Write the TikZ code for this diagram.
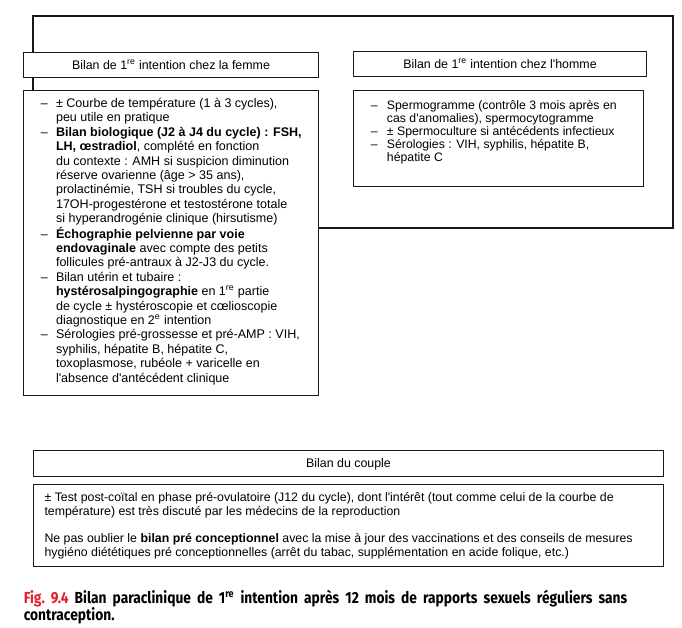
\documentclass[tikz,border=0pt]{standalone}
\usepackage{fontspec}
\setmainfont{Liberation Sans}
\newfontfamily\capfont[FakeStretch=0.86]{Fira Sans}
\definecolor{figred}{RGB}{228,30,42}
\newcommand{\ap}{\textquotesingle}
\begin{document}
\begin{tikzpicture}[x=0.75pt,y=-0.75pt,
  frame/.style={line width=1.5pt,draw=black!90},
  box/.style={draw=black!90,line width=0.75pt,fill=white,anchor=north west,inner sep=0pt},
  ttl/.style={box,font=\fontsize{9.3}{11}\selectfont,text height=6.7pt,text depth=0pt},
  body/.style={anchor=base west,inner sep=0pt,align=left}]
\useasboundingbox (0,0) rectangle (682,628);
% outer frame
\draw[frame] (33,90) -- (33,16) -- (673,16) -- (673,228) -- (318,228);
% woman
\node[ttl,minimum width=221.25pt,minimum height=18.75pt] (ftitle) at (23,52) {Bilan de 1\textsuperscript{re} intention chez la femme};
\node[box,minimum width=221.25pt,minimum height=228.5pt] (fbox) at (23,90) {};
\node[body,font=\fontsize{9.4}{10.8}\selectfont] (ftext) at (40.7,107.5) {\begin{tabular}[t]{@{}p{11.3pt}@{}l@{}}
– & ± Courbe de température (1 à 3 cycles), \\
 & peu utile en pratique \\
– & \textbf{Bilan biologique (J2 à J4 du cycle) : FSH,} \\
 & \textbf{LH, œstradiol}, complété en fonction \\
 & du contexte : AMH si suspicion diminution \\
 & réserve ovarienne (âge > 35 ans), \\
 & prolactinémie, TSH si troubles du cycle, \\
 & 17OH-progestérone et testostérone totale \\
 & si hyperandrogénie clinique (hirsutisme) \\
– & \textbf{Échographie pelvienne par voie} \\
 & \textbf{endovaginale} avec compte des petits \\
 & follicules pré-antraux à J2-J3 du cycle. \\
– & Bilan utérin et tubaire : \\
 & \textbf{hystérosalpingographie} en 1\textsuperscript{re} partie \\
 & de cycle ± hystéroscopie et cœlioscopie \\
 & diagnostique en 2\textsuperscript{e} intention \\
– & Sérologies pré-grossesse et pré-AMP : VIH, \\
 & syphilis, hépatite B, hépatite C, \\
 & toxoplasmose, rubéole + varicelle en \\
 & l\ap absence d\ap antécédent clinique
\end{tabular}};
% man
\node[ttl,minimum width=219.75pt,minimum height=18.75pt] (htitle) at (353,51) {Bilan de 1\textsuperscript{re} intention chez l\ap homme};
\node[box,minimum width=217.5pt,minimum height=72pt] (hbox) at (353,90) {};
\node[body,font=\fontsize{9.2}{9.9}\selectfont] (htext) at (370.7,109) {\begin{tabular}[t]{@{}p{12pt}@{}l@{}}
– & Spermogramme (contrôle 3 mois après en \\
 & cas d\ap anomalies), spermocytogramme \\
– & ± Spermoculture si antécédents infectieux \\
– & Sérologies : VIH, syphilis, hépatite B, \\
 & hépatite C
\end{tabular}};
% couple
\node[ttl,minimum width=472.5pt,minimum height=19.5pt] (ctitle) at (33,449.5) {Bilan du couple};
\node[box,minimum width=472.5pt,minimum height=61.5pt] (cbox) at (33,484.3) {};
\node[body,font=\fontsize{9.25}{10.72}\selectfont] (ctext) at (44.3,501) {\begin{tabular}[t]{@{}l@{}}
± Test post-coïtal en phase pré-ovulatoire (J12 du cycle), dont l\ap intérêt (tout comme celui de la courbe de \\
température) est très discuté par les médecins de la reproduction \\[9.75pt]
Ne pas oublier le \textbf{bilan pré conceptionnel} avec la mise à jour des vaccinations et des conseils de mesures \\
hygiéno diététiques pré conceptionnelles (arrêt du tabac, supplémentation en acide folique, etc.)
\end{tabular}};
% caption
\node[body,font=\capfont\bfseries\fontsize{12}{12.5}\selectfont] (caption) at (23.5,603) {\begin{tabular}[t]{@{}l@{}}
\makebox[452.6pt][s]{{\color{figred}Fig.\ 9.4} Bilan paraclinique de 1\textsuperscript{re} intention après 12 mois de rapports sexuels réguliers sans}\\
contraception.
\end{tabular}};
\end{tikzpicture}
\end{document}
